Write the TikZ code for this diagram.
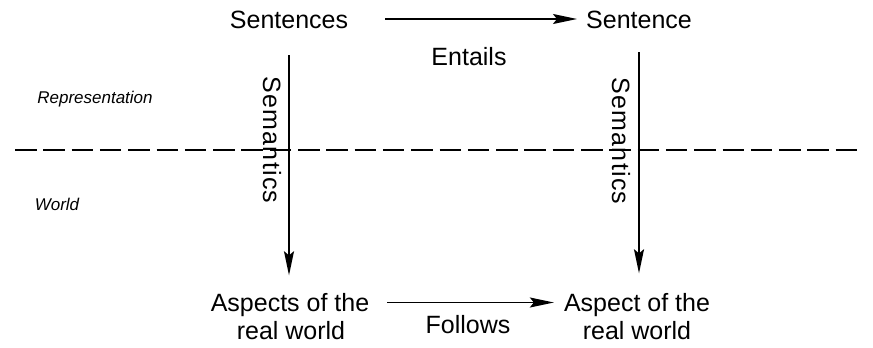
\documentclass[tikz,border=0pt]{standalone}
\usepackage{fontspec}
\setmainfont{Liberation Sans}
\usetikzlibrary{arrows.meta}

\tikzset{
  lbl/.style={inner sep=0pt, text height=18pt, text depth=0pt,
              font=\fontsize{25}{28}\selectfont},
  sem/.style={lbl, rotate=-90,
              font=\fontsize{25}{28}\selectfont\addfontfeatures{LetterSpace=5}},
  side/.style={inner sep=0pt, font=\fontsize{17}{20}\selectfont\itshape},
  arr/.style={line width=1.5pt, -{Stealth[length=24pt,width=10pt,inset=4pt]}},
  divider/.style={line width=2.5pt, dash pattern=on 21.5pt off 6.8pt}
}

\begin{document}
\begin{tikzpicture}[x=1pt,y=-1pt]
  \useasboundingbox (0,0) rectangle (873,348);

  % level labels and the dividing line
  \node[side] (rep) at (95,99) {Representation};
  \node[side] (wld) at (57,204) {World};
  \draw[divider] (15,150) -- (860,150);

  % sentences (representation level)
  \node[lbl] (s1) at (289,19) {Sentences};
  \node[lbl] (s2) at (639,19) {Sentence};

  % aspects (world level)
  \node[lbl] (a1) at (290,302.5) {Aspects of the};
  \node[lbl] (a1b) at (291,330.5) {real world};
  \node[lbl] (a2) at (637,302.5) {Aspect of the};
  \node[lbl] (a2b) at (637,330.5) {real world};

  % entailment between sentences
  \draw[arr, shorten <=37pt, shorten >=9pt] (s1.east) -- (s2.west);
  \node[lbl] (ent) at (469,56) {Entails};

  % following between aspects
  \draw[arr, shorten <=18pt, shorten >=10pt] (a1.east) -- (a2.west);
  \node[lbl] (fol) at (468,324) {Follows};

  % semantics mappings
  \draw[arr, shorten <=27pt, shorten >=18pt] (s1.south) -- (s1.south |- a1.north);
  \draw[arr, shorten <=24pt, shorten >=20pt] (s2.south) -- (s2.south |- a2.north);
  \node[sem] (sm1) at (272,140) {Semantics};
  \node[sem] (sm2) at (621,141) {Semantics};
\end{tikzpicture}
\end{document}
